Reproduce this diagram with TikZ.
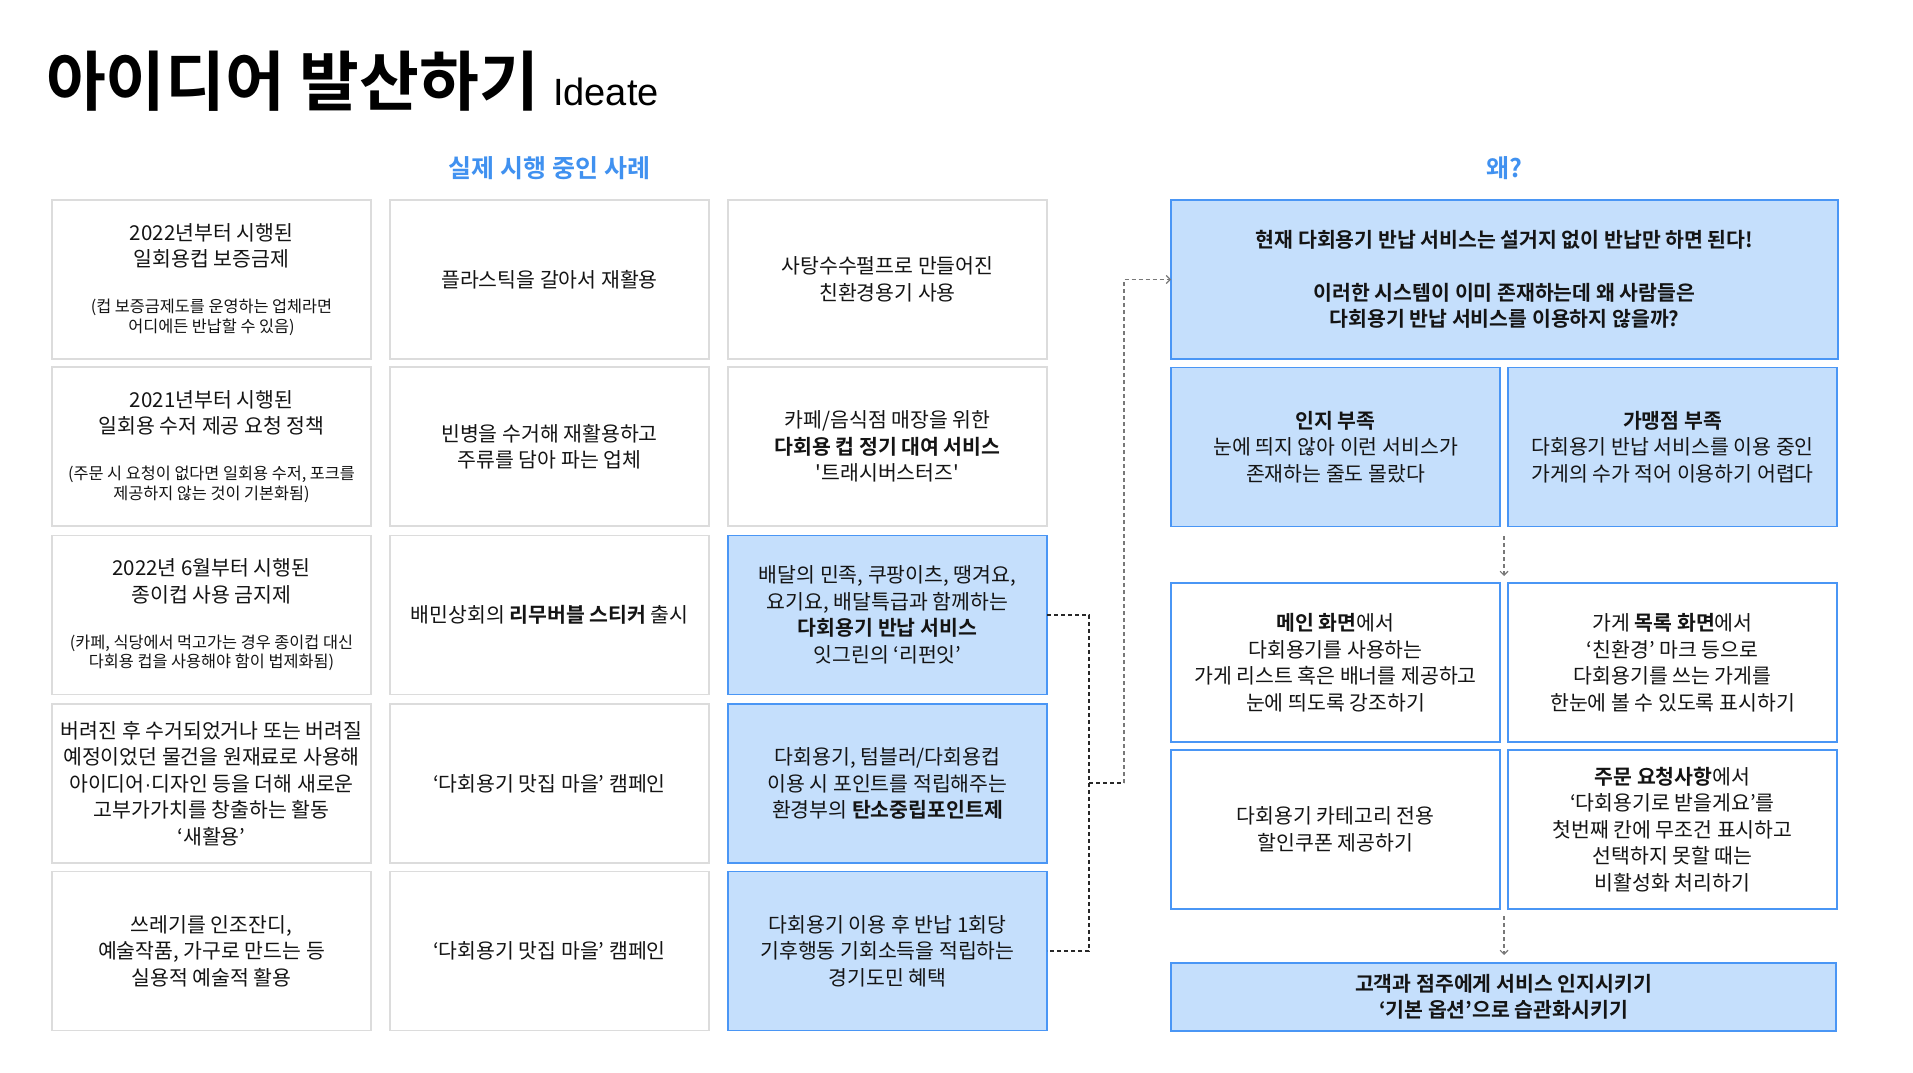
\documentclass[tikz,border=0pt]{standalone}
\usepackage{fontspec}
\setmainfont{Noto Sans CJK KR}[BoldFont={Noto Sans CJK KR Bold}, Ligatures=TeXOff]
\newfontfamily\latinf{Liberation Sans}
\usetikzlibrary{arrows.meta}
\definecolor{bfill}{RGB}{197,223,252}
\definecolor{bline}{RGB}{74,150,245}
\definecolor{gline}{RGB}{220,220,220}
\definecolor{hblue}{RGB}{64,145,240}
\definecolor{txt}{RGB}{20,20,20}
\definecolor{dline}{RGB}{40,40,40}
\definecolor{gdline}{RGB}{120,120,120}
\newcommand\smtxt{\fontsize{16.3}{19.5}\selectfont}
\newcommand\mdot{{\latinf ·}}
\begin{document}
\begin{tikzpicture}[x=1pt,y=-1pt,
  every node/.style={inner sep=0pt, outer sep=0pt, text=txt, align=center, font=\fontsize{20.5}{26.5}\selectfont},
  gbox/.style={draw=gline, line width=1.5pt, fill=white, minimum width=319pt, minimum height=159pt},
  bbox/.style={draw=bline, line width=1.5pt, fill=bfill, minimum width=319pt, minimum height=159pt},
  wbox/.style={draw=bline, line width=1.5pt, fill=white, minimum width=329pt, minimum height=159pt},
  rbbox/.style={draw=bline, line width=1.5pt, fill=bfill, minimum width=329pt, minimum height=159pt},
  head/.style={text=hblue, font=\bfseries\fontsize{25}{25}\selectfont},
  dashline/.style={draw=dline, line width=1.1pt, dash pattern=on 4pt off 3pt},
  gdash/.style={draw=gdline, line width=1.1pt, dash pattern=on 4pt off 3pt},
  tip/.style={-{Straight Barb[length=4pt,width=8pt,line width=1.1pt]}}
]
\fill[white] (0,0) rectangle (1913,1072);
\useasboundingbox (0,0) rectangle (1913,1072);

% title
\node[anchor=base west, text=black, font=\bfseries\fontsize{65}{65}\selectfont] (title) at (46,105) {아이디어 발산하기};
\node[anchor=base west, text=black, font=\latinf\fontsize{38}{38}\selectfont] (sub) at ([xshift=14pt]title.base east) {Ideate};

% headings
\node[head] (h1) at (549.5,168) {실제 시행 중인 사례};
\node[head] (h2) at (1504.5,168) {왜?};

% column 1
\node[gbox] (c1r1) at (211.5,279.5) {2022년부터 시행된\\일회용컵 보증금제\\[19.5pt]\smtxt (컵 보증금제도를 운영하는 업체라면\\[-7pt]\smtxt 어디에든 반납할 수 있음)};
\node[gbox] (c1r2) at (211.5,446.5) {2021년부터 시행된\\일회용 수저 제공 요청 정책\\[19.5pt]\smtxt (주문 시 요청이 없다면 일회용 수저, 포크를\\[-7pt]\smtxt 제공하지 않는 것이 기본화됨)};
\node[gbox] (c1r3) at (211.5,615) {2022년 6월부터 시행된\\종이컵 사용 금지제\\[19.5pt]\smtxt (카페, 식당에서 먹고가는 경우 종이컵 대신\\[-7pt]\smtxt 다회용 컵을 사용해야 함이 법제화됨)};
\node[gbox] (c1r4) at (211.5,783.5) {버려진 후 수거되었거나 또는 버려질\\예정이었던 물건을 원재료로 사용해\\아이디어\mdot 디자인 등을 더해 새로운\\고부가가치를 창출하는 활동\\‘새활용’};
\node[gbox] (c1r5) at (211.5,951) {쓰레기를 인조잔디,\\예술작품, 가구로 만드는 등\\실용적 예술적 활용};

% column 2
\node[gbox] (c2r1) at (549.5,279.5) {플라스틱을 갈아서 재활용};
\node[gbox] (c2r2) at (549.5,446.5) {빈병을 수거해 재활용하고\\주류를 담아 파는 업체};
\node[gbox] (c2r3) at (549.5,615) {배민상회의 \textbf{리무버블 스티커} 출시};
\node[gbox] (c2r4) at (549.5,783.5) {‘다회용기 맛집 마을’ 캠페인};
\node[gbox] (c2r5) at (549.5,951) {‘다회용기 맛집 마을’ 캠페인};

% column 3
\node[gbox] (c3r1) at (887.5,279.5) {사탕수수펄프로 만들어진\\친환경용기 사용};
\node[gbox] (c3r2) at (887.5,446.5) {카페/음식점 매장을 위한\\\textbf{다회용 컵 정기 대여 서비스}\\'트래시버스터즈'};
\node[bbox] (c3r3) at (887.5,615) {배달의 민족, 쿠팡이츠, 땡겨요,\\요기요, 배달특급과 함께하는\\\textbf{다회용기 반납 서비스}\\잇그린의 ‘리펀잇’};
\node[bbox] (c3r4) at (887.5,783.5) {다회용기, 텀블러/다회용컵\\이용 시 포인트를 적립해주는\\환경부의 \textbf{탄소중립포인트제}};
\node[bbox] (c3r5) at (887.5,951) {다회용기 이용 후 반납 1회당\\기후행동 기회소득을 적립하는\\경기도민 혜택};

% right side
\node[draw=bline, line width=1.5pt, fill=bfill, minimum width=667pt, minimum height=159pt, font=\bfseries\fontsize{20.5}{26.5}\selectfont] (why) at (1504.5,279.5) {현재 다회용기 반납 서비스는 설거지 없이 반납만 하면 된다!\\[26.5pt]이러한 시스템이 이미 존재하는데 왜 사람들은\\다회용기 반납 서비스를 이용하지 않을까?};
\node[rbbox] (ia) at (1335.5,447) {\textbf{인지 부족}\\눈에 띄지 않아 이런 서비스가\\존재하는 줄도 몰랐다};
\node[rbbox] (ga) at (1672.5,447) {\textbf{가맹점 부족}\\다회용기 반납 서비스를 이용 중인\\가게의 수가 적어 이용하기 어렵다};
\node[wbox] (s1) at (1335.5,662.5) {\textbf{메인 화면}에서\\다회용기를 사용하는\\가게 리스트 혹은 배너를 제공하고\\눈에 띄도록 강조하기};
\node[wbox] (s2) at (1672.5,662.5) {가게 \textbf{목록 화면}에서\\‘친환경’ 마크 등으로\\다회용기를 쓰는 가게를\\한눈에 볼 수 있도록 표시하기};
\node[wbox] (s3) at (1335.5,829.5) {다회용기 카테고리 전용\\할인쿠폰 제공하기};
\node[wbox] (s4) at (1672.5,829.5) {\textbf{주문 요청사항}에서\\‘다회용기로 받을게요’를\\첫번째 칸에 무조건 표시하고\\선택하지 못할 때는\\비활성화 처리하기};
\node[draw=bline, line width=1.5pt, fill=bfill, minimum width=665pt, minimum height=68pt, font=\bfseries\fontsize{20.5}{26.5}\selectfont] (fin) at (1503.5,997) {고객과 점주에게 서비스 인지시키기\\‘기본 옵션’으로 습관화시키기};

% connectors
\coordinate (j) at (1089,783);
\coordinate (k) at (1124,783);
\draw[dashline] (c3r3.east) -| (j) |- (c3r5.east);
\draw[dashline] (j) -- (k);
\draw[gdash, tip] (k) |- (why.west);

\coordinate (g1) at (1504,527);
\coordinate (g2) at (1504,583);
\coordinate (g3) at (1504,909);
\coordinate (g4) at (1504,963);
\draw[gdash, tip, shorten <=9pt, shorten >=7pt] (g1) -- (g2);
\draw[gdash, tip, shorten <=7pt, shorten >=8pt] (g3) -- (g4);
\end{tikzpicture}
\end{document}
